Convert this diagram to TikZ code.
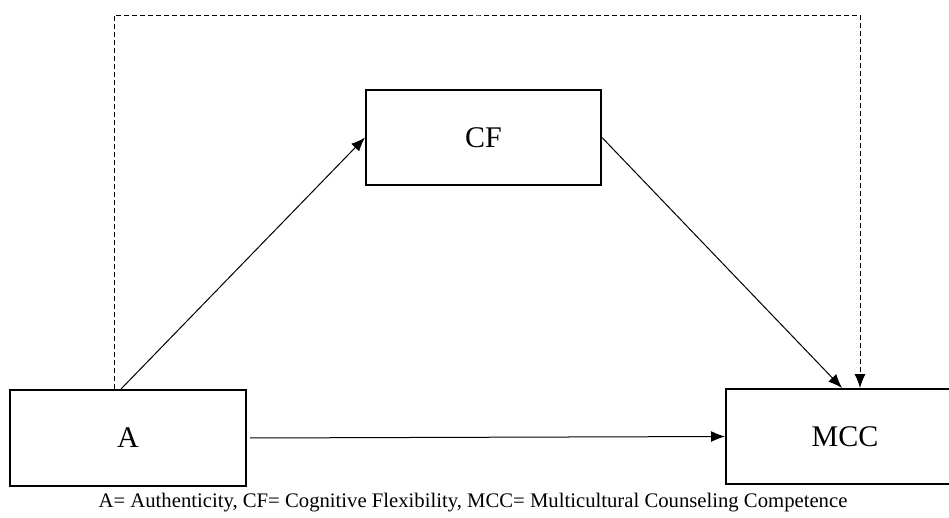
\documentclass[tikz,border=0pt]{standalone}
\usepackage{fontspec}
\setmainfont{Liberation Serif}
\usetikzlibrary{arrows.meta}

\begin{document}
\begin{tikzpicture}[x=1pt,y=-1pt,
		varbox/.style={draw,line width=2pt,font=\fontsize{30}{34}\selectfont},
		effect/.style={line width=1pt,-{Latex[length=14pt,width=11pt]}},
		direct/.style={effect,dash pattern=on 5pt off 3pt}]

	\useasboundingbox (0,0) rectangle (949,517);

	\node[varbox,minimum width=236pt,minimum height=96pt] (A) at (128,438) {A};
	\node[varbox,minimum width=235pt,minimum height=95pt] (CF) at (483.5,137.5) {CF};
	\node[varbox,minimum width=238pt,minimum height=95pt] (MCC) at (845,436.5) {MCC};

	\coordinate (top) at (480,15);

	\draw[effect] ([xshift=-7pt]A.north) -- (CF.west);
	\draw[effect] (CF.east) -- ([xshift=-3pt]MCC.north);
	\draw[effect,shorten <=3pt] (A.east) -- (MCC.west);
	\draw[direct] ([xshift=-14pt]A.north) |- (top) -| ([xshift=15pt]MCC.north);

	\node[font=\fontsize{20.7}{24}\selectfont] (key) at (473,503) {A= Authenticity, CF= Cognitive Flexibility, MCC= Multicultural Counseling Competence};
\end{tikzpicture}
\end{document}
